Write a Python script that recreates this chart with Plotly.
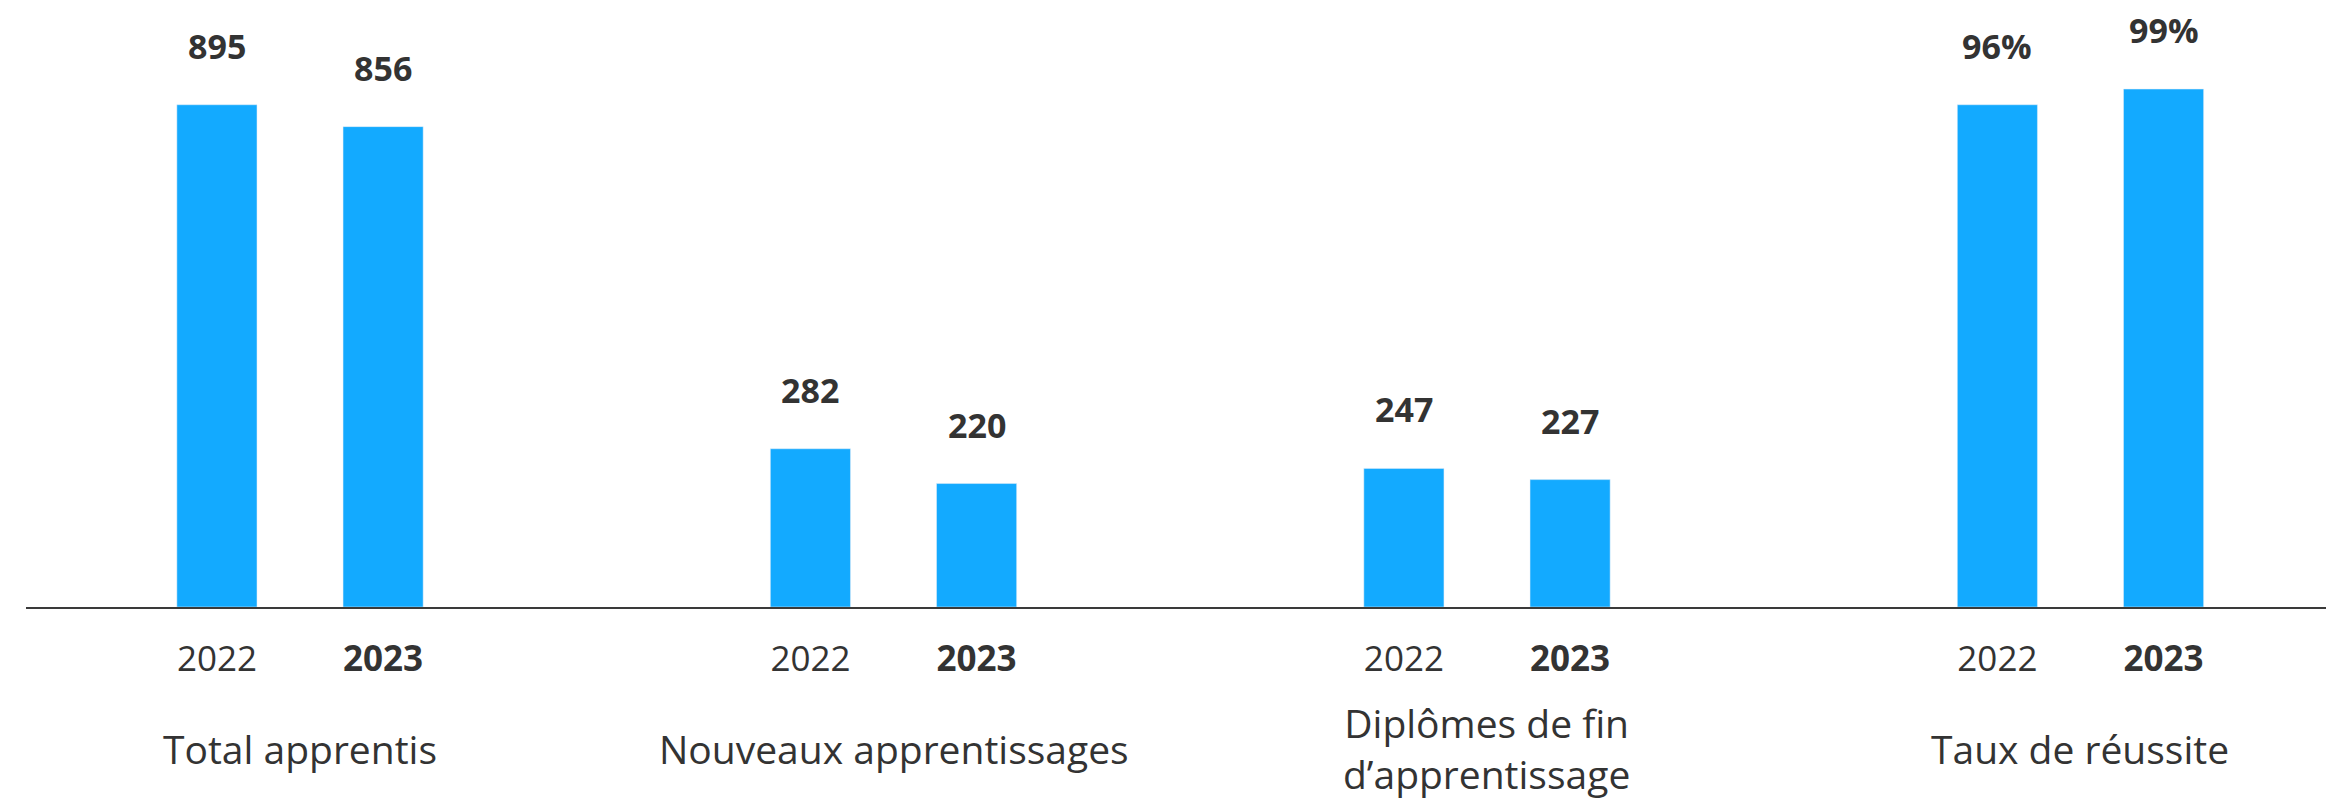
import plotly.graph_objects as go

# Indicators and yearly values
categories = ["Total apprentis", "Nouveaux apprentissages",
              "Diplômes de fin<br>d’apprentissage", "Taux de réussite"]
years = ["2022", "2023"]
values_2022 = [895, 282, 247, 96]
values_2023 = [856, 220, 227, 99]
is_percent = [False, False, False, True]

BAR_COLOR = "#13AAFF"
TEXT_COLOR = "#333333"
FONT = "Open Sans"
OFFSET = 0.14
BAR_W = 0.135

fig = go.Figure()
annotations = []
tickvals, ticktext = [], []

for yi, (year, vals) in enumerate(zip(years, [values_2022, values_2023])):
    off = -OFFSET if yi == 0 else OFFSET
    for axis_pct in (False, True):
        xs = [gi + off for gi in range(len(categories)) if is_percent[gi] == axis_pct]
        ys = [vals[gi] for gi in range(len(categories)) if is_percent[gi] == axis_pct]
        fig.add_trace(go.Bar(
            x=xs, y=ys, width=BAR_W, marker_color=BAR_COLOR,
            yaxis="y2" if axis_pct else "y", showlegend=False,
            hoverinfo="skip",
        ))
    for gi in range(len(categories)):
        v = vals[gi]
        label = f"{v}%" if is_percent[gi] else f"{v}"
        annotations.append(dict(
            x=gi + off, y=v, xref="x", yref="y2" if is_percent[gi] else "y",
            text=f"<b>{label}</b>", showarrow=False, yanchor="bottom",
            yshift=34, font=dict(family=FONT, size=34, color=TEXT_COLOR),
        ))
        tickvals.append(gi + off)
        ticktext.append(f"<b>{year}</b>" if yi == 1 else year)

for gi, cat in enumerate(categories):
    annotations.append(dict(
        x=gi, y=0, xref="x", yref="paper", text=cat, showarrow=False,
        yanchor="middle", yshift=-141,
        font=dict(family=FONT, size=39, color=TEXT_COLOR),
    ))

YMAX = 1046
fig.update_layout(
    width=2326, height=799,
    margin=dict(l=26, r=0, t=20, b=192),
    plot_bgcolor="white", paper_bgcolor="white",
    barmode="overlay",
    xaxis=dict(
        range=[-0.4617, 3.4137], tickvals=tickvals, ticktext=ticktext,
        showgrid=False, zeroline=False, showline=True, linecolor="#3a3a3a",
        linewidth=2, ticks="", ticklabelstandoff=20,
        tickfont=dict(family=FONT, size=35, color=TEXT_COLOR),
    ),
    yaxis=dict(range=[0, YMAX], visible=False, showgrid=False),
    yaxis2=dict(range=[0, YMAX * values_2022[3] / values_2022[0]],
                overlaying="y", visible=False, showgrid=False),
    annotations=annotations,
)

fig.write_html("out.html")
